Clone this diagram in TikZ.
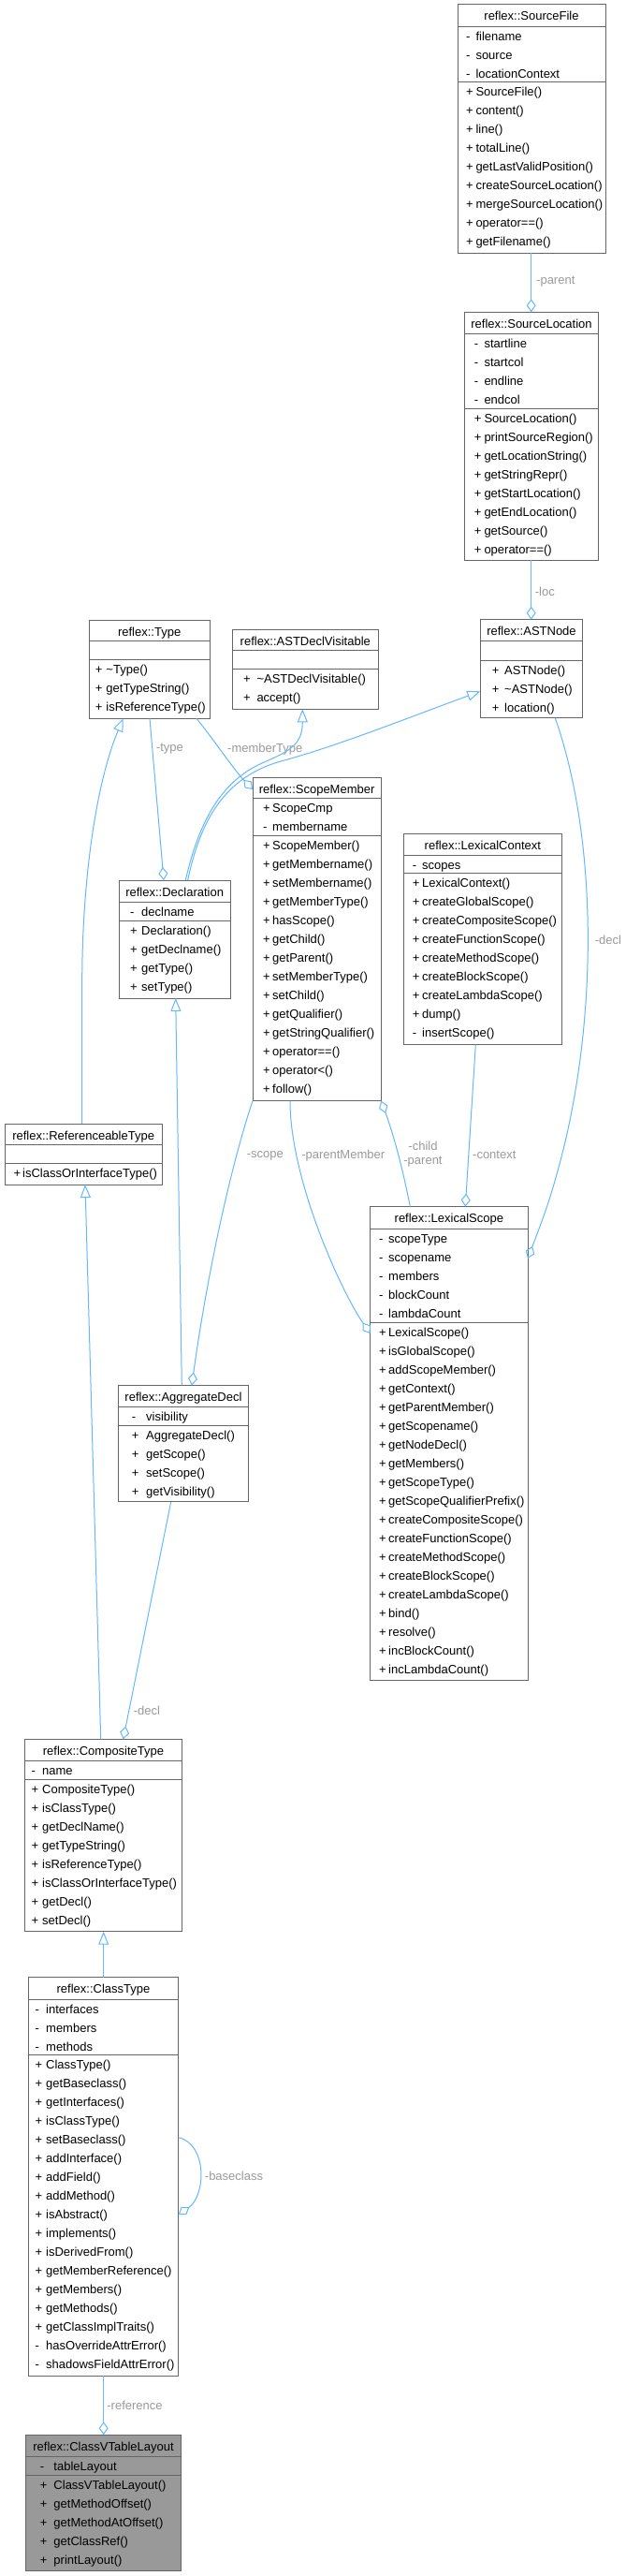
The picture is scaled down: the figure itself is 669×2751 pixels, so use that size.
\documentclass[tikz,border=0pt]{standalone}
\usepackage{fontspec}
\setmainfont{Liberation Sans}
\usetikzlibrary{arrows.meta}
\definecolor{edge}{HTML}{63B8FF}
\definecolor{bord}{HTML}{666666}
\definecolor{lbl}{HTML}{9A9A9A}
\definecolor{hl}{HTML}{999999}
\newcommand{\umlfont}{\fontsize{13}{15}\selectfont}
\def\boxfill{white}
\tikzset{
 box/.style={draw=bord, line width=1pt, fill=\boxfill, rectangle, inner sep=0pt, outer sep=0pt, anchor=north west},
 ttl/.style={anchor=base, inner sep=0pt, font=\umlfont},
 row/.style={anchor=base west, inner sep=0pt, font=\umlfont},
 lab/.style={inner sep=0pt, font=\umlfont, text=lbl},
 con/.style={draw=edge, line width=1pt},
 agg/.style={con, -{Diamond[open,length=14pt,width=10pt]}},
 inh/.style={con, -{Triangle[open,length=14pt,width=11pt]}},
}
% name, x, ytop, w, h, div1, div2, title baseline, title
\newcommand{\umlbox}[9]{%
 \node[box, minimum width=#4pt, minimum height=#5pt] (#1) at (#2,#3) {};
 \draw[bord, line width=1pt] (#1.west |- 0,#6) -- (#1.east |- 0,#6);
 \draw[bord, line width=1pt] (#1.west |- 0,#7) -- (#1.east |- 0,#7);
 \node[ttl] (#1-t) at (#1.north |- 0,#8) {#9};
}
% prefix, symx, namex, first baseline, list
\newcommand{\umlrows}[5]{%
 \foreach \s/\t [count=\i] in {#5} {
   \node[row] (#1\i) at (#2,{#4+20*(\i-1)}) {\makebox[\dimexpr #3pt-#2pt\relax][l]{\s}\t};
 }}
\begin{document}
\begin{tikzpicture}[x=1pt,y=-1pt]
\fill[white] (0,0) rectangle (669,2751);
\useasboundingbox (0,0) rectangle (669,2751);

\umlbox{sf}{489}{5}{158}{265}{28.3}{87.7}{22}{reflex::SourceFile}
\umlrows{sfa}{498}{508.3}{43.3}{-/filename, -/source, -/locationContext}
\umlrows{sfm}{498}{508.3}{102.7}{+/SourceFile(), +/content(), +/line(), +/totalLine(), +/getLastValidPosition(), +/createSourceLocation(), +/mergeSourceLocation(), +/operator==(), +/getFilename()}

\umlbox{sl}{496.7}{333.3}{142.6}{265}{356}{436}{350.3}{reflex::SourceLocation}
\umlrows{sla}{506.7}{517.3}{371}{-/startline, -/startcol, -/endline, -/endcol}
\umlrows{slm}{506.7}{517.3}{451}{+/SourceLocation(), +/printSourceRegion(), +/getLocationString(), +/getStringRepr(), +/getStartLocation(), +/getEndLocation(), +/getSource(), +/operator==()}

\umlbox{an}{513.3}{661.7}{109.4}{105}{684.3}{705}{678.7}{reflex::ASTNode}
\umlrows{anm}{525.7}{539}{720}{+/ASTNode(), +/\textasciitilde ASTNode(), +/location()}

\umlbox{ty}{95}{662.3}{129.3}{105}{684.3}{704.3}{679.3}{reflex::Type}
\umlrows{tym}{101.7}{113.3}{719.3}{+/\textasciitilde Type(), +/getTypeString(), +/isReferenceType()}

\umlbox{adv}{248.3}{672.3}{156}{85}{694.3}{714.3}{689.3}{reflex::ASTDeclVisitable}
\umlrows{advm}{260}{274.3}{729.3}{+/\textasciitilde ASTDeclVisitable(), +/accept()}

\umlbox{sm}{270}{830}{137.3}{345.7}{852.7}{892.7}{847}{reflex::ScopeMember}
\umlrows{sma}{281}{291}{867.7}{+/ScopeCmp, -/membername}
\umlrows{smm}{281}{291}{907.7}{+/ScopeMember(), +/getMembername(), +/setMembername(), +/getMemberType(), +/hasScope(), +/getChild(), +/getParent(), +/setMemberType(), +/setChild(), +/getQualifier(), +/getStringQualifier(), +/operator==(), +/operator<(), +/follow()}

\umlbox{dc}{127.3}{940}{118.7}{126}{963.3}{983.3}{957}{reflex::Declaration}
\umlrows{dca}{139}{151}{978.3}{-/declname}
\umlrows{dcm}{139}{151}{998.3}{+/Declaration(), +/getDeclname(), +/getType(), +/setType()}

\umlbox{lc}{431.7}{890}{168.3}{225.7}{913.3}{932.7}{907}{reflex::LexicalContext}
\umlrows{lca}{440.7}{451}{928.3}{-/scopes}
\umlrows{lcm}{440.7}{451}{947.7}{+/LexicalContext(), +/createGlobalScope(), +/createCompositeScope(), +/createFunctionScope(), +/createMethodScope(), +/createBlockScope(), +/createLambdaScope(), +/dump(), -/insertScope()}

\umlbox{ls}{395.7}{1288.6}{168.3}{505.8}{1312.4}{1412}{1305.6}{reflex::LexicalScope}
\umlrows{lsa}{405}{415}{1327.4}{-/scopeType, -/scopename, -/members, -/blockCount, -/lambdaCount}
\umlrows{lsm}{405}{415}{1427}{+/LexicalScope(), +/isGlobalScope(), +/addScopeMember(), +/getContext(), +/getParentMember(), +/getScopename(), +/getNodeDecl(), +/getMembers(), +/getScopeType(), +/getScopeQualifierPrefix(), +/createCompositeScope(), +/createFunctionScope(), +/createMethodScope(), +/createBlockScope(), +/createLambdaScope(), +/bind(), +/resolve(), +/incBlockCount(), +/incLambdaCount()}

\umlbox{rt}{5}{1200}{168.3}{65.1}{1222.2}{1242.1}{1217}{reflex::ReferenceableType}
\umlrows{rtm}{14.3}{24}{1257.1}{+/isClassOrInterfaceType()}

\umlbox{ag}{126.7}{1479.4}{138.6}{124.4}{1502.3}{1522.3}{1496.4}{reflex::AggregateDecl}
\umlrows{aga}{140.7}{156}{1517.3}{-/visibility}
\umlrows{agm}{140.7}{156}{1537.3}{+/AggregateDecl(), +/getScope(), +/setScope(), +/getVisibility()}

\umlbox{ct}{26.7}{1857.3}{167.6}{205.4}{1880.7}{1900}{1874.3}{reflex::CompositeType}
\umlrows{cta}{33.3}{45}{1895.5}{-/name}
\umlrows{ctm}{33.3}{45}{1915}{+/CompositeType(), +/isClassType(), +/getDeclName(), +/getTypeString(), +/isReferenceType(), +/isClassOrInterfaceType(), +/getDecl(), +/setDecl()}

\umlbox{cl}{30.3}{2111.6}{160.4}{425.5}{2135.3}{2194.6}{2128.6}{reflex::ClassType}
\umlrows{cla}{37.3}{49}{2150.3}{-/interfaces, -/members, -/methods}
\umlrows{clm}{37.3}{49}{2209.6}{+/ClassType(), +/getBaseclass(), +/getInterfaces(), +/isClassType(), +/setBaseclass(), +/addInterface(), +/addField(), +/addMethod(), +/isAbstract(), +/implements(), +/isDerivedFrom(), +/getMemberReference(), +/getMembers(), +/getMethods(), +/getClassImplTraits(), -/hasOverrideAttrError(), -/shadowsFieldAttrError()}

\def\boxfill{hl}
\umlbox{cv}{27.7}{2600.2}{165.6}{145.3}{2623.9}{2643}{2617.2}{reflex::ClassVTableLayout}
\umlrows{cva}{42.7}{57.3}{2638.9}{-/tableLayout}
\umlrows{cvm}{42.7}{57.3}{2658}{+/ClassVTableLayout(), +/getMethodOffset(), +/getMethodAtOffset(), +/getClassRef(), +/printLayout()}

% connectors
\draw[agg] (sf.south -| 567.7,0) -- (sl.north -| 567.7,0);
\node[lab, anchor=west] (l1) at (573,301) {-parent};
\draw[agg] (sl.south -| 567.7,0) -- (an.north -| 567.7,0);
\node[lab, anchor=west] (l2) at (571.7,631.7) {-loc};
\draw[agg] (ty.south -| 160,0) -- (dc.north -| 175,0);
\node[lab] (l3) at (181.5,800) {-type};
\draw[agg] (ty.south -| 210,0) .. controls (230,792) and (250,822) .. (sm.west |- 0,843);
\node[lab] (l4) at (283.3,800) {-memberType};
\draw[inh] (dc.north -| 198.3,0) .. controls (212,880) and (235,835) .. (280,815) .. controls (310,802) and (323.3,795) .. (adv.south -| 323.3,0);
\draw[inh] (dc.north -| 200.7,0) .. controls (214,876) and (240,830) .. (300,813) .. controls (360,797) and (440,765) .. (an.west |- 0,738.3);
\draw[inh] (rt.north -| 87.7,0) -- (87.7,1050) .. controls (87.7,930) and (105,830) .. (ty.south -| 131.7,0);
\draw[inh] (ag.north -| 194.3,0) -- (dc.south -| 187.7,0);
\draw[agg] (sm.south west) .. controls (245,1250) and (220,1370) .. (ag.north -| 205,0);
\node[lab] (l5) at (283.3,1234) {-scope};
\draw[agg] (sm.south -| 310,0) .. controls (310,1260) and (365,1380) .. (ls.west |- 0,1424);
\node[lab] (l6) at (366.7,1234) {-parentMember};
\draw[agg] (ls.north -| 438.3,0) .. controls (430,1246) and (420,1210) .. (sm.south east);
\node[lab, align=center] (l7) at (452,1233) {-child\\-parent};
\draw[agg] (lc.south -| 508.3,0) -- (ls.north -| 497.3,0);
\node[lab] (l8) at (528.3,1233.3) {-context};
\draw[agg] (an.south -| 593.3,0) .. controls (640,900) and (640,1100) .. (593.3,1260) .. controls (585,1290) and (575,1315) .. (ls.east |- 0,1344);
\node[lab] (l9) at (650,1004) {-decl};
\draw[agg] (ag.south -| 182.7,0) -- (ct.north -| 131.7,0);
\node[lab] (l10) at (157,1826.7) {-decl};
\draw[inh] (ct.north -| 107.7,0) -- (rt.south -| 91,0);
\draw[inh] (cl.north -| 110.7,0) -- (ct.south -| 110.7,0);
\draw[agg] (cl.east |- 0,2282.6) .. controls (222,2290) and (220,2345) .. (cl.east |- 0,2365);
\node[lab] (l11) at (250,2324) {-baseclass};
\draw[agg] (cl.south -| 110.7,0) -- (cv.north -| 110.7,0);
\node[lab] (l12) at (144,2569) {-reference};
\end{tikzpicture}
\end{document}
